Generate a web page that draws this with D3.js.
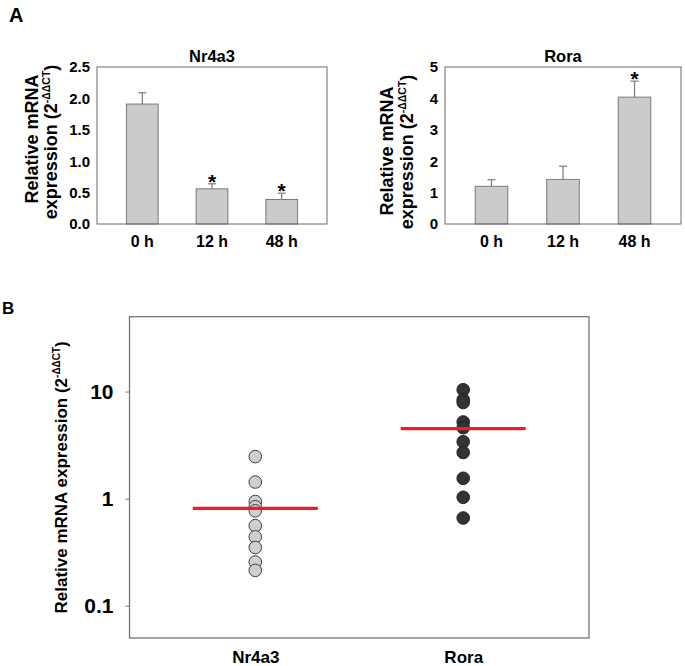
<!DOCTYPE html>
<html>
<head>
<meta charset="utf-8">
<script src="https://cdn.jsdelivr.net/npm/d3@7"></script>
<style>
  html, body { margin: 0; padding: 0; background: #fff; }
  svg { display: block; font-family: "Liberation Sans", Arial, sans-serif; }
</style>
</head>
<body>
<svg id="chart" width="685" height="666"></svg>
<script>
// ---------- DATA ----------
const timePoints = ["0 h", "12 h", "48 h"];
const nr4a3Means = [1.91, 0.56, 0.39];
const nr4a3Errors = [0.18, 0.08, 0.10];
const nr4a3Significant = [false, true, true];
const nr4a3Ticks = [0, 0.5, 1.0, 1.5, 2.0, 2.5];

const roraMeans = [1.20, 1.42, 4.04];
const roraErrors = [0.21, 0.42, 0.51];
const roraSignificant = [false, false, true];
const roraTicks = [0, 1, 2, 3, 4, 5];

const genes = ["Nr4a3", "Rora"];
const nr4a3Individual = [2.47, 1.43, 0.94, 0.84, 0.77, 0.56, 0.44, 0.35, 0.256, 0.214];
const roraIndividual = [10.4, 8.4, 7.9, 5.2, 4.6, 3.4, 2.7, 1.55, 1.03, 0.66];
const groupMeans = [0.81, 4.5];
const logTicks = [0.1, 1, 10];

// ---------- DRAW ----------
const svg = d3.select("#chart");
const boxColor = "#6a6a6a";
const FF = "Liberation Sans, Arial, sans-serif";

// Panel letters
svg.append("text").attr("x", 9).attr("y", 22).attr("font-size", 20).attr("font-weight", "bold").text("A");
svg.append("text").attr("x", 2).attr("y", 314).attr("font-size", 17).attr("font-weight", "bold").text("B");

function barPanel(opts) {
  const { left, right, top, bottom, maxV, ticks, fmt, means, errs, sig, title, lab1X, lab2X, labY1, labY2 } = opts;
  const g = svg.append("g");
  const x = d3.scaleBand().domain(timePoints).range([left, right]).paddingInner(0.545).paddingOuter(0.4225);
  const y = d3.scaleLinear().domain([0, maxV]).range([bottom, top]);

  g.selectAll("rect.bar").data(timePoints).join("rect")
    .attr("x", d => x(d)).attr("width", x.bandwidth())
    .attr("y", (d, i) => y(means[i])).attr("height", (d, i) => y(0) - y(means[i]))
    .attr("fill", "#cbcbcb").attr("stroke", "#7a7a7a").attr("stroke-width", 1);

  timePoints.forEach((d, i) => {
    const cx = x(d) + x.bandwidth() / 2;
    g.append("line").attr("x1", cx).attr("x2", cx)
      .attr("y1", y(means[i])).attr("y2", y(means[i] + errs[i]))
      .attr("stroke", "#7a7a7a").attr("stroke-width", 1.2);
    g.append("line").attr("x1", cx - 4).attr("x2", cx + 4)
      .attr("y1", y(means[i] + errs[i])).attr("y2", y(means[i] + errs[i]))
      .attr("stroke", "#7a7a7a").attr("stroke-width", 1.2);
    if (sig[i]) {
      g.append("text").attr("x", cx).attr("y", y(means[i] + errs[i]) + 5)
        .attr("text-anchor", "middle").attr("font-size", 21).attr("font-weight", "bold")
        .text("*");
    }
  });

  g.append("rect").attr("x", left).attr("y", top).attr("width", right - left).attr("height", bottom - top)
    .attr("fill", "none").attr("stroke", boxColor).attr("stroke-width", 1);

  const ya = g.append("g").attr("transform", `translate(${left},0)`)
    .call(d3.axisLeft(y).tickValues(ticks).tickFormat(fmt).tickSize(0).tickPadding(7));
  ya.select(".domain").remove();
  ya.selectAll("text").attr("font-size", 15).attr("font-weight", "bold").attr("fill", "#000")
    .attr("font-family", FF);

  const xa = g.append("g").attr("transform", `translate(0,${bottom})`)
    .call(d3.axisBottom(x).tickSize(0).tickPadding(12));
  xa.select(".domain").remove();
  xa.selectAll("text").attr("font-size", 16).attr("font-weight", "bold").attr("fill", "#000")
    .attr("font-family", FF);

  g.append("text").attr("x", (left + right) / 2).attr("y", 62).attr("text-anchor", "middle")
    .attr("font-size", 16.5).attr("font-weight", "bold").text(title);

  g.append("text").attr("transform", `translate(${lab1X},${labY1}) rotate(-90)`)
    .attr("text-anchor", "middle").attr("font-size", 18).attr("font-weight", "bold")
    .text("Relative mRNA");
  const t2 = g.append("text").attr("transform", `translate(${lab2X},${labY2}) rotate(-90)`)
    .attr("text-anchor", "middle").attr("font-size", 18).attr("font-weight", "bold");
  t2.append("tspan").text("expression (2");
  t2.append("tspan").attr("font-size", 10.5).attr("dy", "-7").text("-ΔΔCT");
  t2.append("tspan").attr("dy", "7").text(")");
}

barPanel({ left: 97, right: 327, top: 67, bottom: 224, maxV: 2.5, ticks: nr4a3Ticks, fmt: d3.format(".1f"),
  means: nr4a3Means, errs: nr4a3Errors, sig: nr4a3Significant, title: "Nr4a3",
  lab1X: 38, lab2X: 57, labY1: 139, labY2: 142 });
barPanel({ left: 445, right: 681, top: 67, bottom: 224, maxV: 5, ticks: roraTicks, fmt: d3.format("d"),
  means: roraMeans, errs: roraErrors, sig: roraSignificant, title: "Rora",
  lab1X: 393, lab2X: 413, labY1: 151, labY2: 152 });

// ---------- Panel B ----------
const bLeft = 129.5, bRight = 589, bTop = 316.7, bBottom = 638;
const xb = d3.scalePoint().domain(genes).range([bLeft, bRight]).padding(0.605);
const yb = d3.scaleLog().domain([0.05, 50]).range([bBottom, bTop]);
const gb = svg.append("g");

gb.append("rect").attr("x", bLeft).attr("y", bTop).attr("width", bRight - bLeft).attr("height", bBottom - bTop)
  .attr("fill", "none").attr("stroke", boxColor).attr("stroke-width", 1.2);

const yab = gb.append("g").attr("transform", `translate(${bLeft},0)`)
  .call(d3.axisLeft(yb).tickValues(logTicks).tickFormat(d => d3.format("~g")(d)).tickSize(4).tickPadding(12));
yab.select(".domain").remove();
yab.selectAll("line").attr("stroke", "#777");
yab.selectAll("text").attr("font-size", 21).attr("font-weight", "bold").attr("fill", "#000")
  .attr("font-family", FF);

const xab = gb.append("g").attr("transform", `translate(0,${bBottom})`)
  .call(d3.axisBottom(xb).tickSize(0).tickPadding(13));
xab.select(".domain").remove();
xab.selectAll("text").attr("font-size", 17).attr("font-weight", "bold").attr("fill", "#000")
  .attr("font-family", FF);

const pointSets = [
  { gene: "Nr4a3", values: nr4a3Individual, fill: "#cfcfcf", stroke: "#404040" },
  { gene: "Rora", values: roraIndividual, fill: "#333333", stroke: "#222222" }
];
pointSets.forEach(s => {
  gb.append("g").selectAll("circle").data(s.values).join("circle")
    .attr("cx", xb(s.gene)).attr("cy", d => yb(d)).attr("r", 6.3)
    .attr("fill", s.fill).attr("stroke", s.stroke).attr("stroke-width", 1);
});

gb.append("g").selectAll("line").data(genes).join("line")
  .attr("x1", d => xb(d) - 62.5).attr("x2", d => xb(d) + 62.5)
  .attr("y1", (d, i) => yb(groupMeans[i])).attr("y2", (d, i) => yb(groupMeans[i]))
  .attr("stroke", "#ee1c24").attr("stroke-width", 3.2);

const tb = gb.append("text").attr("transform", `translate(67,${(bTop + bBottom) / 2}) rotate(-90)`)
  .attr("text-anchor", "middle").attr("font-size", 17).attr("font-weight", "bold");
tb.append("tspan").text("Relative mRNA expression (2");
tb.append("tspan").attr("font-size", 10).attr("dy", "-7").text("-ΔΔCT");
tb.append("tspan").attr("dy", "7").text(")");
</script>
</body>
</html>
